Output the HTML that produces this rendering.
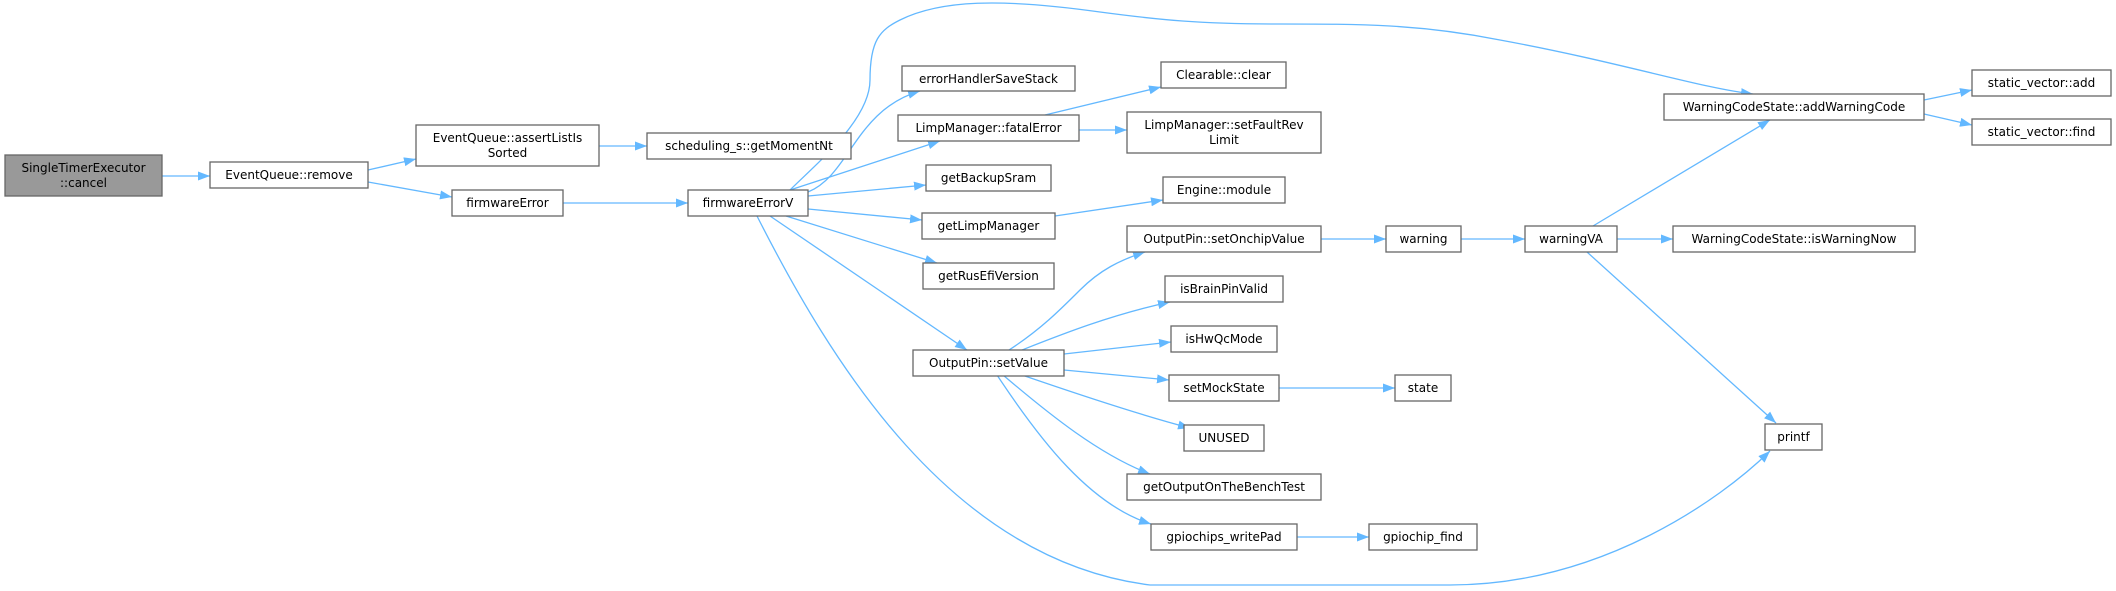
<!DOCTYPE html>
<html><head><meta charset="utf-8"><style>
html,body{margin:0;padding:0;background:#fff;}
svg{display:block;}
text{font-family:"DejaVu Sans","Liberation Sans",sans-serif;font-size:12px;fill:#000;}
.n{fill:#fff;stroke:#666;stroke-width:1.3;}
.e{fill:none;stroke:#63b8ff;stroke-width:1.3;}
</style></head><body>
<svg width="2116" height="591" viewBox="0 0 2116 591" xmlns="http://www.w3.org/2000/svg">
<defs>
<marker id="a" markerUnits="userSpaceOnUse" markerWidth="14" markerHeight="12" refX="12" refY="5" orient="auto">
<polygon points="0,0.5 12,5 0,9.5" fill="#63b8ff"/>
</marker>
</defs>
<g marker-end="url(#a)">
<path class="e" d="M162,176 L210,176"/>
<path class="e" d="M368,170 L416,159"/>
<path class="e" d="M368,182 L452,197"/>
<path class="e" d="M599,146 L647,146"/>
<path class="e" d="M563,203 L688,203"/>
<path class="e" d="M790,190 C815,165 870,120 870,80 C870,40 880,30 900,20 C940,0 1000,-2 1100,12 C1160,20 1200,24 1280,24 C1360,24 1420,24 1500,40 C1620,62 1700,88 1753,94"/>
<path class="e" d="M808,192 C850,175 855,110 920,91"/>
<path class="e" d="M790,190 L940,141"/>
<path class="e" d="M808,196 L926,185"/>
<path class="e" d="M808,209 L922,220"/>
<path class="e" d="M786,216 L937,263"/>
<path class="e" d="M770,216 L967,350"/>
<path class="e" d="M757,216 C830,360 950,560 1150,585 L1450,585 C1600,585 1720,500 1770,451"/>
<path class="e" d="M1045,115 L1161,87"/>
<path class="e" d="M1079,130 L1127,130"/>
<path class="e" d="M1055,216 L1163,200"/>
<path class="e" d="M1009,350 C1040,330 1060,310 1080,290 C1100,270 1120,260 1145,252"/>
<path class="e" d="M1022,350 C1060,335 1110,315 1170,302"/>
<path class="e" d="M1064,354 L1171,342"/>
<path class="e" d="M1064,370 L1169,380"/>
<path class="e" d="M1022,375 C1080,395 1140,415 1190,428"/>
<path class="e" d="M1003,375 C1050,415 1100,455 1150,474"/>
<path class="e" d="M997,375 C1040,440 1090,505 1151,524"/>
<path class="e" d="M1321,239 L1386,239"/>
<path class="e" d="M1461,239 L1525,239"/>
<path class="e" d="M1617,239 L1673,239"/>
<path class="e" d="M1593,226 L1770,120"/>
<path class="e" d="M1587,252 L1776,423"/>
<path class="e" d="M1924,100 L1972,90"/>
<path class="e" d="M1924,114 L1972,125"/>
<path class="e" d="M1279,388 L1395,388"/>
<path class="e" d="M1297,537 L1369,537"/>
</g>
<rect x="5" y="155" width="157" height="41" fill="#999" stroke="#666" stroke-width="1.3"/>
<text x="83.5" y="172" text-anchor="middle">SingleTimerExecutor</text>
<text x="83.5" y="187" text-anchor="middle">::cancel</text>
<rect class="n" x="210" y="162" width="158" height="26"/><text x="289" y="179" text-anchor="middle">EventQueue::remove</text>
<rect class="n" x="416" y="125" width="183" height="41"/><text x="507.5" y="142" text-anchor="middle">EventQueue::assertListIs</text><text x="507.5" y="157" text-anchor="middle">Sorted</text>
<rect class="n" x="647" y="133" width="204" height="26"/><text x="749" y="150" text-anchor="middle">scheduling_s::getMomentNt</text>
<rect class="n" x="452" y="190" width="111" height="26"/><text x="507.5" y="207" text-anchor="middle">firmwareError</text>
<rect class="n" x="688" y="190" width="120" height="26"/><text x="748" y="207" text-anchor="middle">firmwareErrorV</text>
<rect class="n" x="902" y="66" width="173" height="25"/><text x="988.5" y="83" text-anchor="middle">errorHandlerSaveStack</text>
<rect class="n" x="898" y="115" width="181" height="26"/><text x="988.5" y="132" text-anchor="middle">LimpManager::fatalError</text>
<rect class="n" x="926" y="165" width="125" height="26"/><text x="988.5" y="182" text-anchor="middle">getBackupSram</text>
<rect class="n" x="922" y="213" width="133" height="26"/><text x="988.5" y="230" text-anchor="middle">getLimpManager</text>
<rect class="n" x="923" y="263" width="131" height="26"/><text x="988.5" y="280" text-anchor="middle">getRusEfiVersion</text>
<rect class="n" x="913" y="350" width="151" height="26"/><text x="988.5" y="367" text-anchor="middle">OutputPin::setValue</text>
<rect class="n" x="1161" y="62" width="125" height="26"/><text x="1223.5" y="79" text-anchor="middle">Clearable::clear</text>
<rect class="n" x="1127" y="112" width="194" height="41"/><text x="1224" y="129" text-anchor="middle">LimpManager::setFaultRev</text><text x="1224" y="144" text-anchor="middle">Limit</text>
<rect class="n" x="1163" y="177" width="122" height="26"/><text x="1224" y="194" text-anchor="middle">Engine::module</text>
<rect class="n" x="1127" y="226" width="194" height="26"/><text x="1224" y="243" text-anchor="middle">OutputPin::setOnchipValue</text>
<rect class="n" x="1165" y="276" width="118" height="26"/><text x="1224" y="293" text-anchor="middle">isBrainPinValid</text>
<rect class="n" x="1171" y="326" width="106" height="26"/><text x="1224" y="343" text-anchor="middle">isHwQcMode</text>
<rect class="n" x="1169" y="375" width="110" height="26"/><text x="1224" y="392" text-anchor="middle">setMockState</text>
<rect class="n" x="1184" y="425" width="80" height="26"/><text x="1224" y="442" text-anchor="middle">UNUSED</text>
<rect class="n" x="1127" y="474" width="194" height="26"/><text x="1224" y="491" text-anchor="middle">getOutputOnTheBenchTest</text>
<rect class="n" x="1151" y="524" width="146" height="26"/><text x="1224" y="541" text-anchor="middle">gpiochips_writePad</text>
<rect class="n" x="1386" y="226" width="75" height="26"/><text x="1423.5" y="243" text-anchor="middle">warning</text>
<rect class="n" x="1395" y="375" width="56" height="26"/><text x="1423" y="392" text-anchor="middle">state</text>
<rect class="n" x="1369" y="524" width="108" height="26"/><text x="1423" y="541" text-anchor="middle">gpiochip_find</text>
<rect class="n" x="1525" y="226" width="92" height="26"/><text x="1571" y="243" text-anchor="middle">warningVA</text>
<rect class="n" x="1673" y="226" width="242" height="26"/><text x="1794" y="243" text-anchor="middle">WarningCodeState::isWarningNow</text>
<rect class="n" x="1664" y="94" width="260" height="26"/><text x="1794" y="111" text-anchor="middle">WarningCodeState::addWarningCode</text>
<rect class="n" x="1765" y="424" width="57" height="26"/><text x="1793.5" y="441" text-anchor="middle">printf</text>
<rect class="n" x="1972" y="70" width="139" height="26"/><text x="2041.5" y="87" text-anchor="middle">static_vector::add</text>
<rect class="n" x="1972" y="119" width="139" height="26"/><text x="2041.5" y="136" text-anchor="middle">static_vector::find</text>
</svg>
</body></html>
